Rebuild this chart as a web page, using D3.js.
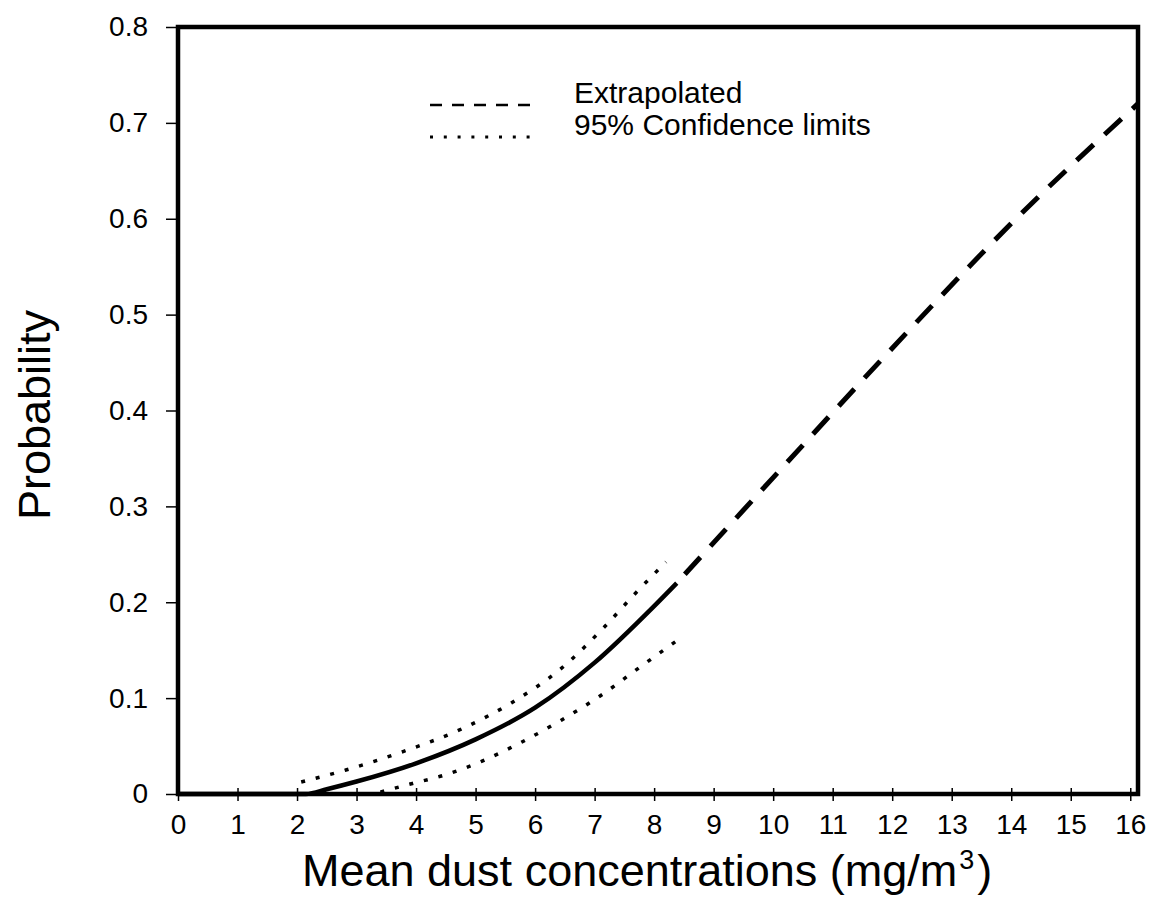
<!DOCTYPE html>
<html>
<head>
<meta charset="utf-8">
<script src="https://cdn.jsdelivr.net/npm/d3@7"></script>
<style>
  body { margin: 0; background: #fff; }
  svg { display: block; font-family: "Liberation Sans", Arial, Helvetica, sans-serif; }
</style>
</head>
<body>
<div id="chart"></div>
<script>
// fitted curve (solid)
const fitX = [0, 1, 2.15, 2.5, 3, 4, 5, 6, 7, 8, 8.38];
const fitY = [0, 0, 0, 0.005, 0.013, 0.032, 0.057, 0.090, 0.137, 0.196, 0.220];

// 95% confidence limits (dotted)
const upperX = [2.07, 2.82, 3.77, 4.77, 5.6, 6.44, 7.16, 7.71, 8.2];
const upperY = [0.0125, 0.025, 0.044, 0.068, 0.095, 0.131, 0.174, 0.211, 0.242];
const lowerX = [3.4, 3.94, 4.44, 5.1, 5.77, 6.44, 7.11, 7.71, 8.36];
const lowerY = [0.002, 0.011, 0.019, 0.034, 0.054, 0.077, 0.103, 0.130, 0.159];

// extrapolated part (dashed)
const extraX = [8.38, 10, 12, 14, 16.13];
const extraY = [0.22, 0.33, 0.465, 0.595, 0.72];

const xTicks = [0, 1, 2, 3, 4, 5, 6, 7, 8, 9, 10, 11, 12, 13, 14, 15, 16];
const yTicks = [0, 0.1, 0.2, 0.3, 0.4, 0.5, 0.6, 0.7, 0.8];

const legendLabels = ["Extrapolated", "95% Confidence limits"];

const width = 1151, height = 912;
const plot = {left: 178, right: 1138, top: 27, bottom: 794};

const svg = d3.select("#chart").append("svg")
    .attr("width", width)
    .attr("height", height);

const x = d3.scaleLinear().domain([0, 16.13]).range([plot.left, plot.right]);
const y = d3.scaleLinear().domain([0, 0.8]).range([plot.bottom, plot.top]);

const zip = (xs, ys) => xs.map((v, i) => [v, ys[i]]);
const line = d3.line()
    .x(d => x(d[0]))
    .y(d => y(d[1]))
    .curve(d3.curveMonotoneX);

// Y axis
const yAxis = svg.append("g")
    .attr("transform", `translate(${plot.left},0)`)
    .call(d3.axisLeft(y).tickValues(yTicks).tickSize(12).tickPadding(18)
        .tickFormat(d => d === 0 ? "0" : d3.format(".1f")(d)));
yAxis.select(".domain").remove();
yAxis.selectAll("line").attr("stroke", "#000").attr("stroke-width", 1.5);
yAxis.selectAll("text").attr("font-size", 28).attr("fill", "#000")
    .attr("font-family", "Liberation Sans, Arial, sans-serif");

// X axis
const xAxis = svg.append("g")
    .attr("transform", `translate(0,${plot.bottom})`)
    .call(d3.axisBottom(x).tickValues(xTicks).tickSize(7).tickPadding(13));
xAxis.select(".domain").remove();
xAxis.selectAll("line").attr("y1", -6).attr("stroke", "#000").attr("stroke-width", 1.5);
xAxis.selectAll("text").attr("font-size", 28).attr("fill", "#000")
    .attr("font-family", "Liberation Sans, Arial, sans-serif");

// frame
svg.append("rect")
    .attr("x", plot.left)
    .attr("y", plot.top)
    .attr("width", plot.right - plot.left)
    .attr("height", plot.bottom - plot.top)
    .attr("fill", "none")
    .attr("stroke", "#000")
    .attr("stroke-width", 4.5);

// curves
svg.append("path")
    .attr("d", line(zip(fitX, fitY)))
    .attr("fill", "none")
    .attr("stroke", "#000")
    .attr("stroke-width", 4.5);

[zip(upperX, upperY), zip(lowerX, lowerY)].forEach(pts => {
    svg.append("path")
        .attr("d", line(pts))
        .attr("fill", "none")
        .attr("stroke", "#000")
        .attr("stroke-width", 3.5)
        .attr("stroke-dasharray", "4,11");
});

svg.append("path")
    .attr("d", line(zip(extraX, extraY)))
    .attr("fill", "none")
    .attr("stroke", "#000")
    .attr("stroke-width", 5)
    .attr("stroke-dasharray", "23,15")
    .attr("stroke-dashoffset", 26);

// legend
const legend = svg.append("g").attr("transform", "translate(430,0)");
legend.append("line")
    .attr("x1", 0).attr("x2", 110).attr("y1", 105).attr("y2", 105)
    .attr("stroke", "#000").attr("stroke-width", 2.5)
    .attr("stroke-dasharray", "12,10");
legend.append("line")
    .attr("x1", 0).attr("x2", 110).attr("y1", 137).attr("y2", 137)
    .attr("stroke", "#000").attr("stroke-width", 3)
    .attr("stroke-dasharray", "3,10.8");
legend.selectAll("text.lab")
    .data(legendLabels)
    .enter().append("text")
    .attr("class", "lab")
    .attr("x", 144)
    .attr("y", (d, i) => 103 + i * 32)
    .attr("font-size", 30)
    .text(d => d);

// axis titles
svg.append("text")
    .attr("transform", "translate(50,415) rotate(-90)")
    .attr("text-anchor", "middle")
    .attr("font-size", 45)
    .text("Probability");

const xt = svg.append("text")
    .attr("x", 302)
    .attr("y", 886)
    .attr("font-size", 45)
    .text("Mean dust concentrations (mg/m");
xt.append("tspan").attr("font-size", 27).attr("dy", -17).attr("dx", 2).text("3");
xt.append("tspan").attr("dy", 17).attr("dx", 3).text(")");
</script>
</body>
</html>
